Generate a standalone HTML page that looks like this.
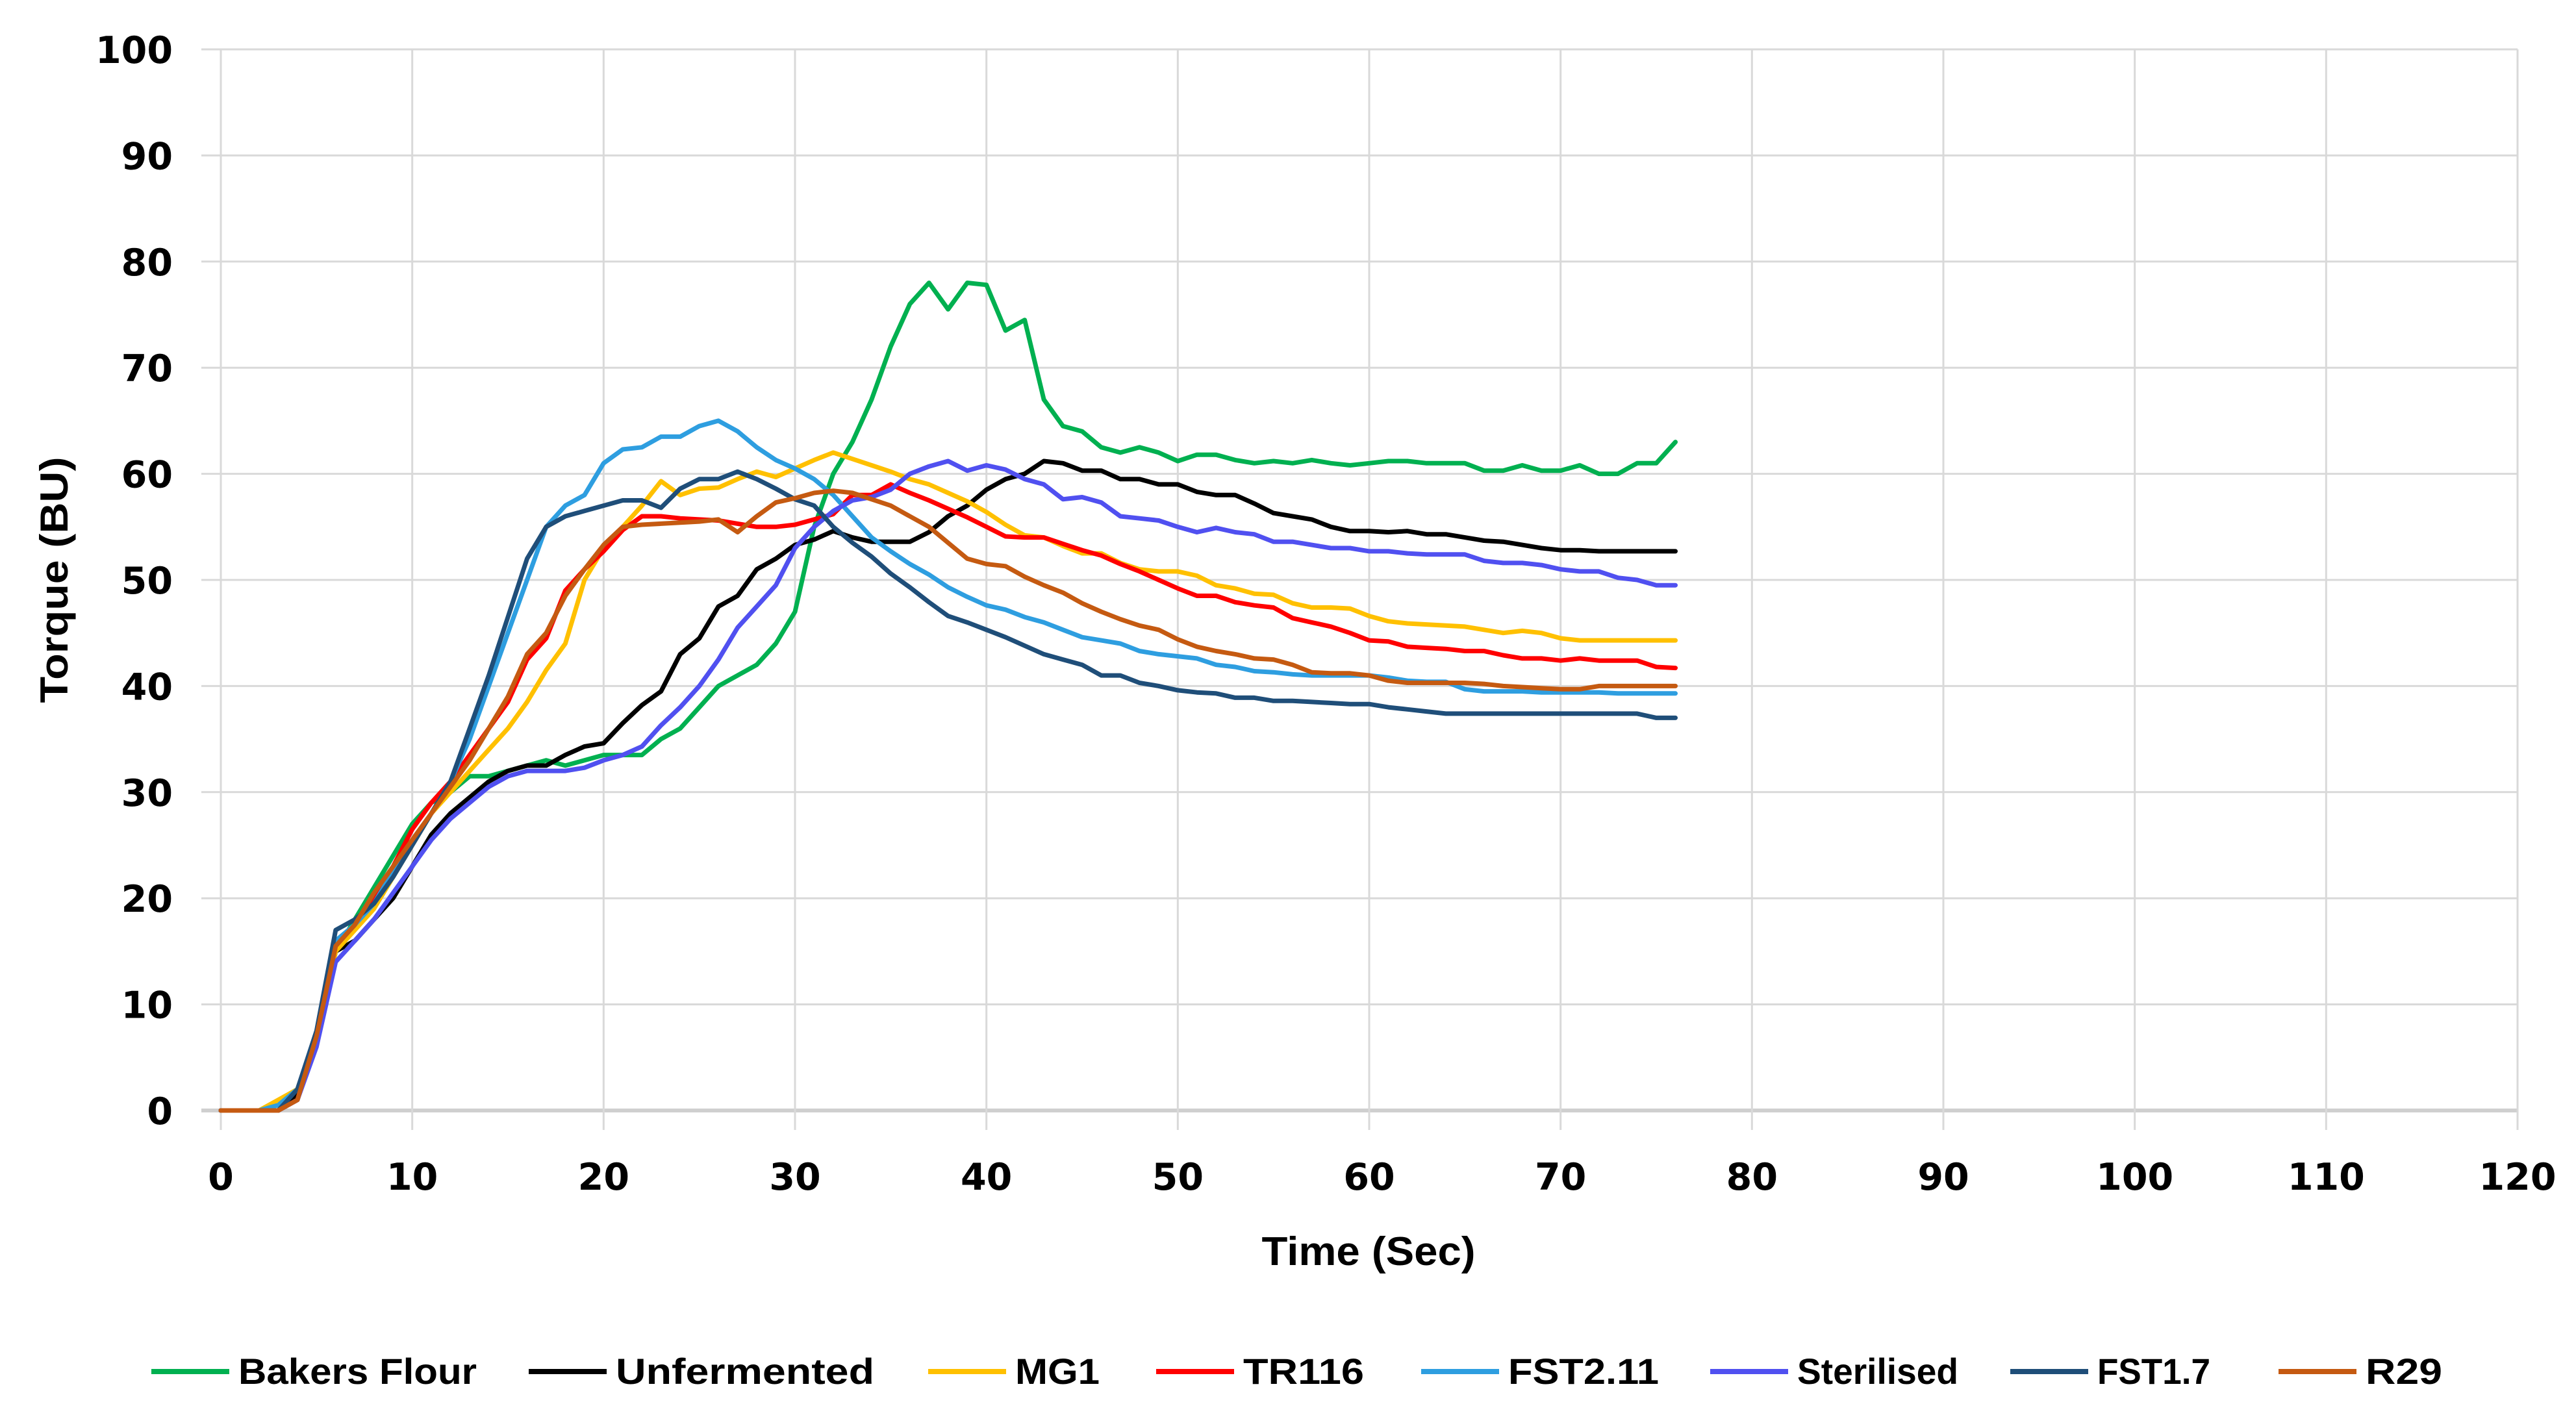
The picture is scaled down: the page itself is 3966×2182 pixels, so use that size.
<!DOCTYPE html>
<html><head><meta charset="utf-8"><style>
html,body{margin:0;padding:0;background:#fff;width:3966px;height:2182px;overflow:hidden}
svg{display:block}
</style></head><body>
<svg id="chart" width="3966" height="2182" xmlns="http://www.w3.org/2000/svg">
<g id="grid"></g>
<g id="axes"></g>
<g id="series"></g>
<text x="0" y="0" transform="translate(104,893) rotate(-90)" text-anchor="middle" font-family="Liberation Sans, sans-serif" font-weight="bold" font-size="60" textLength="379" lengthAdjust="spacingAndGlyphs">Torque (BU)</text>
<text x="2107" y="1948" text-anchor="middle" font-family="Liberation Sans, sans-serif" font-weight="bold" font-size="62" textLength="329" lengthAdjust="spacingAndGlyphs">Time (Sec)</text>
<g id="legend"></g>
</svg>
<script>
const xTicks=[0,10,20,30,40,50,60,70,80,90,100,110,120];
const yTicks=[0,10,20,30,40,50,60,70,80,90,100];
const seriesNames=["Bakers Flour","Unfermented","MG1","TR116","FST2.11","Sterilised","FST1.7","R29"];
const seriesColors=["#00b050","#000000","#ffc000","#ff0000","#2e9ee0","#5050f0","#1f4e79","#c55a11"];
const bakersFlour=[0,0,0,0,1,7,15,18,21,24,27,29,30,31.5,31.5,32,32.5,33,32.5,33,33.5,33.5,33.5,35,36,38,40,41,42,44,47,55,60,63,67,72,76,78,75.5,78,77.8,73.5,74.5,67,64.5,64,62.5,62,62.5,62,61.2,61.8,61.8,61.3,61,61.2,61,61.3,61,60.8,61,61.2,61.2,61,61,61,60.3,60.3,60.8,60.3,60.3,60.8,60,60,61,61,63];
const unfermented=[0,0,0,0,1.5,7,15,16,18,20,23,26,28,29.5,31,32,32.5,32.5,33.5,34.3,34.6,36.5,38.2,39.5,43,44.5,47.5,48.5,51,52,53.3,53.8,54.6,54,53.6,53.6,53.6,54.5,56,57,58.5,59.5,60,61.2,61,60.3,60.3,59.5,59.5,59,59,58.3,58,58,57.2,56.3,56,55.7,55,54.6,54.6,54.5,54.6,54.3,54.3,54,53.7,53.6,53.3,53,52.8,52.8,52.7,52.7,52.7,52.7,52.7];
const mg1=[0,0,0,1,2,7,15,17,19,22,25,28,30,32,34,36,38.5,41.5,44,50,53,55,57,59.3,58,58.6,58.7,59.5,60.2,59.7,60.5,61.3,62,61.4,60.8,60.2,59.5,59,58.2,57.4,56.4,55.2,54.2,54,53.2,52.5,52.5,51.6,51,50.8,50.8,50.4,49.5,49.2,48.7,48.6,47.8,47.4,47.4,47.3,46.6,46.1,45.9,45.8,45.7,45.6,45.3,45,45.2,45,44.5,44.3,44.3,44.3,44.3,44.3,44.3];
const tr116=[0,0,0,0,1,7,15.5,17.5,20,23,26.5,29,31,33.5,36,38.5,42.5,44.5,49,51,52.7,54.7,56,56,55.8,55.7,55.6,55.3,55,55,55.2,55.7,56.2,58,58,59,58.2,57.5,56.7,55.9,55,54.1,54,54,53.4,52.8,52.3,51.5,50.8,50,49.2,48.5,48.5,47.9,47.6,47.4,46.4,46,45.6,45,44.3,44.2,43.7,43.6,43.5,43.3,43.3,42.9,42.6,42.6,42.4,42.6,42.4,42.4,42.4,41.8,41.7];
const fst211=[0,0,0,0.5,2,7,16,17.5,19.5,22.5,25.5,28,31,35,40,45,50,55,57,58,61,62.3,62.5,63.5,63.5,64.5,65,64,62.5,61.3,60.5,59.5,58,56,54,52.7,51.5,50.5,49.3,48.4,47.6,47.2,46.5,46,45.3,44.6,44.3,44,43.3,43,42.8,42.6,42,41.8,41.4,41.3,41.1,41,41,41,41,40.8,40.5,40.4,40.4,39.7,39.5,39.5,39.5,39.4,39.4,39.4,39.4,39.3,39.3,39.3,39.3];
const sterilised=[0,0,0,0,1,6,14,16,18,20.5,23,25.5,27.5,29,30.5,31.5,32,32,32,32.3,33,33.5,34.3,36.3,38,40,42.5,45.5,47.5,49.5,53,55,56.5,57.5,57.8,58.5,60,60.7,61.2,60.3,60.8,60.4,59.5,59,57.6,57.8,57.3,56,55.8,55.6,55,54.5,54.9,54.5,54.3,53.6,53.6,53.3,53,53,52.7,52.7,52.5,52.4,52.4,52.4,51.8,51.6,51.6,51.4,51,50.8,50.8,50.2,50,49.5,49.5];
const fst17=[0,0,0,0,2,7.5,17,18,19.5,22,25,28,31,36,41,46.5,52,55,56,56.5,57,57.5,57.5,56.8,58.6,59.5,59.5,60.2,59.5,58.6,57.6,57,55,53.5,52.2,50.6,49.3,47.9,46.6,46,45.3,44.6,43.8,43,42.5,42,41,41,40.3,40,39.6,39.4,39.3,38.9,38.9,38.6,38.6,38.5,38.4,38.3,38.3,38,37.8,37.6,37.4,37.4,37.4,37.4,37.4,37.4,37.4,37.4,37.4,37.4,37.4,37,37];
const r29=[0,0,0,0,1,7,15.5,17.5,20.5,23,25.5,28,30.5,33,36,39,43,45,48.5,51,53.3,55,55.2,55.3,55.4,55.5,55.7,54.5,56,57.3,57.7,58.2,58.4,58.2,57.6,57,56,55,53.5,52,51.5,51.3,50.3,49.5,48.8,47.8,47,46.3,45.7,45.3,44.4,43.7,43.3,43,42.6,42.5,42,41.3,41.2,41.2,41,40.5,40.3,40.3,40.3,40.3,40.2,40,39.9,39.8,39.7,39.7,40,40,40,40,40];
const seriesData=[bakersFlour,unfermented,mg1,tr116,fst211,sterilised,fst17,r29];
const seriesKeys=["bakers-flour","unfermented","mg1","tr116","fst2-11","sterilised","fst1-7","r29"];

const NS="http://www.w3.org/2000/svg";
const X0=340,X1=3876,Y0=1710,Y1=76;
const xScale=t=>X0+(t-0)/(120-0)*(X1-X0);
const yScale=v=>Y0-(v-0)/(100-0)*(Y0-Y1);
function mk(tag,attrs,parent){const e=document.createElementNS(NS,tag);for(const k in attrs)e.setAttribute(k,attrs[k]);parent.appendChild(e);return e;}
const grid=document.getElementById('grid'),axes=document.getElementById('axes'),sg=document.getElementById('series'),lg=document.getElementById('legend');
yTicks.forEach(v=>{
  const l=mk('line',{x1:X0-30,x2:X1,y1:yScale(v),y2:yScale(v),stroke:v===0?'#cfcfcf':'#d9d9d9','stroke-width':v===0?6:3},grid);
  
  
  const t=mk('text',{x:266,y:yScale(v)+21,'text-anchor':'end','font-family':'DejaVu Sans, sans-serif','font-weight':'bold','font-size':57},axes);
  t.textContent=v;
  
  
});
xTicks.forEach(v=>{
  const l=mk('line',{x1:xScale(v),x2:xScale(v),y1:Y1,y2:Y0+30,stroke:'#d9d9d9','stroke-width':3},grid);
  
  
  const t=mk('text',{x:xScale(v),y:1832,'text-anchor':'middle','font-family':'DejaVu Sans, sans-serif','font-weight':'bold','font-size':57},axes);
  t.textContent=v;
  
  
});
seriesData.forEach((d,i)=>{
  const pts=d.map((v,k)=>xScale(k).toFixed(1)+','+yScale(v).toFixed(1)).join(' ');
  const p=mk('polyline',{points:pts,fill:'none',stroke:seriesColors[i],'stroke-width':7,'stroke-linejoin':'round','stroke-linecap':'round'},sg);
  
  
});
const legX=[233,814,1429,1780,2188,2633,3095,3508];
const legW=[367,398,130,186,232,248,174,118];
seriesNames.forEach((n,i)=>{
  const g=mk('g',{},lg);
  
  
  mk('line',{x1:legX[i],x2:legX[i]+120,y1:2112,y2:2112,stroke:seriesColors[i],'stroke-width':8},g);
  const t=mk('text',{x:legX[i]+134,y:2131,'font-family':'Liberation Sans, sans-serif','font-weight':'bold','font-size':56,textLength:legW[i],lengthAdjust:'spacingAndGlyphs'},g);
  t.textContent=n;
});
</script>
</body></html>
